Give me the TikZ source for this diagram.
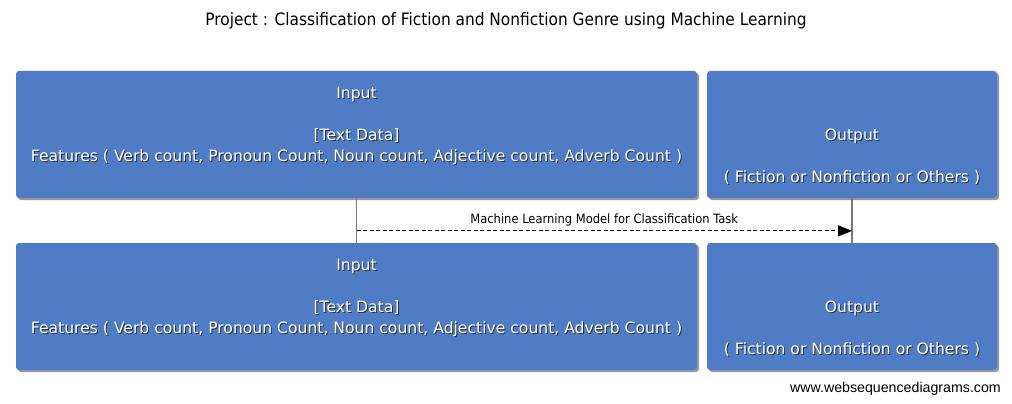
\documentclass[tikz,border=0pt]{standalone}
\usepackage{fontspec}
\setmainfont{DejaVu Sans}
\newfontfamily\condfont{DejaVu Sans Condensed}
\newfontfamily\wmfont{Liberation Sans}
\usetikzlibrary{shadows,arrows.meta,calc}
\definecolor{boxblue}{RGB}{80,124,197}
\definecolor{lifegray}{RGB}{120,120,120}
\definecolor{txtshadow}{RGB}{40,50,70}
\newcommand{\shtxt}[1]{\rlap{\raisebox{-1pt}{\hspace{1pt}\textcolor{txtshadow}{#1}}}#1}
\tikzset{
  partbox/.style={draw=none, fill=boxblue, rounded corners=3pt, inner sep=0pt,
    drop shadow={shadow xshift=2pt, shadow yshift=-2pt, fill=black, opacity=0.4}},
  boxtext/.style={text=white, font=\fontsize{15.6}{21}\selectfont, inner sep=0pt, anchor=base},
  lifeline/.style={draw=lifegray, line width=1.3pt},
  msg/.style={draw=black, line width=1.2pt, dash pattern=on 4pt off 2.5pt,
    -{Triangle[length=14pt,width=11pt]}},
  msgtext/.style={font=\condfont\fontsize{12.8}{14}\selectfont, inner sep=0pt, anchor=base},
}
\begin{document}
\begin{tikzpicture}[x=1pt,y=-1pt]
\useasboundingbox (0,0) rectangle (1012,404);
% title
\node[font=\condfont\fontsize{17.1}{19}\selectfont, inner sep=0pt, anchor=base] (title) at (506,25.5) {Project : Classification of Fiction and Nonfiction Genre using Machine Learning};
% boxes
\node[partbox, minimum width=681pt, minimum height=127pt] (in1) at (356.5,134.5) {};
\node[partbox, minimum width=290pt, minimum height=127pt] (out1) at (852,134.5) {};
\node[partbox, minimum width=681pt, minimum height=127pt] (in2) at (356.5,306.5) {};
\node[partbox, minimum width=290pt, minimum height=127pt] (out2) at (852,306.5) {};
% box texts
\node[boxtext] (in1a) at ($(in1.north)+(0,27.5)$) {\shtxt{Input}};
\node[boxtext] (in1b) at ($(in1.north)+(0,69.5)$) {\shtxt{[Text Data]}};
\node[boxtext] (in1c) at ($(in1.north)+(0,90.5)$) {\shtxt{Features ( Verb count, Pronoun Count, Noun count, Adjective count, Adverb Count )}};
\node[boxtext] (out1a) at ($(out1.north)+(0,69.5)$) {\shtxt{Output}};
\node[boxtext] (out1b) at ($(out1.north)+(0,111.5)$) {\shtxt{( Fiction or Nonfiction or Others )}};
\node[boxtext] (in2a) at ($(in2.north)+(0,27.5)$) {\shtxt{Input}};
\node[boxtext] (in2b) at ($(in2.north)+(0,69.5)$) {\shtxt{[Text Data]}};
\node[boxtext] (in2c) at ($(in2.north)+(0,90.5)$) {\shtxt{Features ( Verb count, Pronoun Count, Noun count, Adjective count, Adverb Count )}};
\node[boxtext] (out2a) at ($(out2.north)+(0,69.5)$) {\shtxt{Output}};
\node[boxtext] (out2b) at ($(out2.north)+(0,111.5)$) {\shtxt{( Fiction or Nonfiction or Others )}};
% lifelines
\draw[lifeline] (in1.south) -- (in2.north);
\draw[lifeline] (out1.south) -- (out2.north);
% message
\coordinate (ms) at ($(in1.south)!0.733!(in2.north)$);
\coordinate (me) at ($(out1.south)!0.733!(out2.north)$);
\draw[msg] (ms) -- (me);
\node[msgtext] (mlabel) at ($(ms)!0.5!(me)+(0,-7)$) {Machine Learning Model for Classification Task};
% watermark
\node[font=\wmfont\fontsize{14.2}{16}\selectfont, inner sep=0pt, anchor=base east] (wm) at (1001,392) {www.websequencediagrams.com};
\end{tikzpicture}
\end{document}
